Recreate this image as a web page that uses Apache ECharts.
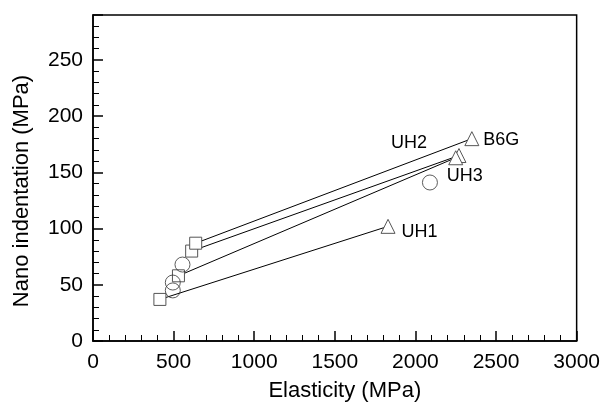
<!DOCTYPE html>
<html>
<head>
<meta charset="utf-8">
<style>
  html, body { margin: 0; padding: 0; background: #fff; }
  #chart { width: 603px; height: 407px; }
</style>
<script src="https://cdn.jsdelivr.net/npm/echarts@6/dist/echarts.min.js"></script>
</head>
<body>
<div id="chart"></div>
<script>
// sample names, start (square) and end (triangle) points, [elasticity, nano indentation]
const sampleNames = ['UH1', 'UH2', 'UH3', 'B6G'];
const squarePoints = [[415, 37], [612, 80], [530, 58], [637, 87]];
const trianglePoints = [[1830, 102], [2270, 165], [2250, 163], [2350, 180]];
const circlePoints = [[495, 45], [495, 52], [555, 68], [2090, 141]];
const xTicks = [0, 500, 1000, 1500, 2000, 2500, 3000];
const yTicks = [0, 50, 100, 150, 200, 250];

const font = 'Liberation Sans, Arial, sans-serif';

// where each sample label sits next to its triangle
const labelPlace = {
  UH1: { position: 'right', distance: 6, offset: [0, 6] },
  UH2: { position: 'inside', offset: [-50, -12] },
  UH3: { position: 'inside', offset: [9, 18] },
  B6G: { position: 'right', distance: 4, offset: [0, 1] }
};

const lineSeries = sampleNames.map((name, i) => ({
  name: name,
  type: 'line',
  data: [
    { value: squarePoints[i], symbol: 'rect', symbolSize: 12 },
    {
      value: trianglePoints[i],
      symbol: 'triangle',
      symbolSize: 14,
      label: Object.assign({
        show: true,
        formatter: name,
        color: '#000',
        fontSize: 18,
        fontFamily: font
      }, labelPlace[name])
    }
  ],
  showAllSymbol: true,
  lineStyle: { color: '#000', width: 1 },
  itemStyle: { color: '#fff', borderColor: '#555', borderWidth: 1 },
  z: 3,
  silent: true
}));

const option = {
  animation: false,
  grid: {
    left: 93,
    right: 25,
    top: 15,
    bottom: 65,
    show: true,
    borderColor: '#000',
    borderWidth: 1.5
  },
  xAxis: {
    type: 'value',
    min: 0,
    max: 3000,
    interval: 500,
    name: 'Elasticity (MPa)',
    nameLocation: 'middle',
    nameGap: 39,
    nameTextStyle: { fontSize: 22, color: '#000', fontFamily: font, padding: [0, 0, 0, 20] },
    axisLine: { lineStyle: { color: '#000', width: 1.5 } },
    axisTick: { inside: true, length: 10, lineStyle: { color: '#000', width: 1.5 } },
    minorTick: { show: true, splitNumber: 5, length: 6, lineStyle: { color: '#000', width: 1 } },
    splitLine: { show: false },
    axisLabel: {
      margin: 11,
      fontSize: 21,
      color: '#000',
      fontFamily: font,
      formatter: v => xTicks.indexOf(v) >= 0 ? String(v) : ''
    }
  },
  yAxis: {
    type: 'value',
    min: 0,
    max: 290,
    interval: 50,
    name: 'Nano indentation (MPa)',
    nameLocation: 'middle',
    nameGap: 60,
    nameTextStyle: { fontSize: 22, color: '#000', fontFamily: font, padding: [0, 26, 0, 0] },
    axisLine: { lineStyle: { color: '#000', width: 1.5 } },
    axisTick: { inside: true, length: 10, lineStyle: { color: '#000', width: 1.5 } },
    minorTick: { show: true, splitNumber: 5, length: 6, lineStyle: { color: '#000', width: 1 } },
    splitLine: { show: false },
    axisLabel: {
      margin: 10,
      fontSize: 21,
      color: '#000',
      fontFamily: font,
      formatter: v => yTicks.indexOf(v) >= 0 ? String(v) : ''
    }
  },
  series: lineSeries.concat([{
    name: 'circles',
    type: 'scatter',
    data: circlePoints,
    symbol: 'circle',
    symbolSize: 15,
    itemStyle: { color: 'rgba(255,255,255,0)', borderColor: '#333', borderWidth: 1 },
    z: 4,
    silent: true
  }])
};

const chart = echarts.init(document.getElementById('chart'));
chart.setOption(option);
</script>
</body>
</html>
